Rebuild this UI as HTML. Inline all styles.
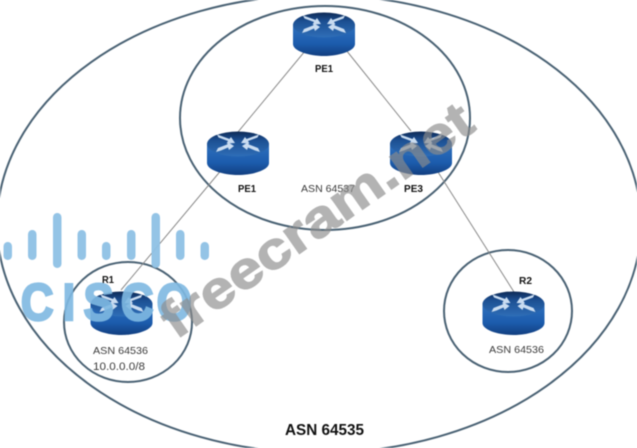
<!DOCTYPE html>
<html><head><meta charset="utf-8"><style>
html,body{margin:0;padding:0;background:#fff;width:637px;height:448px;overflow:hidden}
svg{display:block;filter:blur(.4px)}
text{font-family:"Liberation Sans",sans-serif}
.l{font-size:10.5px;fill:#3a3a3a}
.b{font-size:10.5px;font-weight:bold;fill:#111}
</style></head><body>
<svg width="637" height="448" viewBox="0 0 637 448" xmlns="http://www.w3.org/2000/svg">
<defs>
<linearGradient id="side" x1="0" x2="0" y1="0" y2="1"><stop offset="0" stop-color="#2f70bd"/><stop offset=".6" stop-color="#1c5cad"/><stop offset="1" stop-color="#123f80"/></linearGradient>
<linearGradient id="top" x1="0" x2="0" y1="0" y2="1"><stop offset="0" stop-color="#0e2a55"/><stop offset=".35" stop-color="#1c4f92"/><stop offset="1" stop-color="#2f6fb8"/></linearGradient>
<g id="router">
<path d="M-31 -8V11C-31 18 -15 23 0 23S31 18 31 11V-8Z" fill="url(#side)"/>
<ellipse cx="0" cy="-8" rx="31" ry="12.5" fill="url(#top)"/>
<g fill="#c9dcf1">
<path d="M-21 -17.5L-19.5 -14.5L-10 -11L-11.5 -8.5L-3 -9L-7 -15L-8.5 -13L-18 -16.5Z"/>
<path d="M21 -17.5L19.5 -14.5L10 -11L11.5 -8.5L3 -9L7 -15L8.5 -13L18 -16.5Z"/>
<path d="M-22 0L-20 -4L-11 -7.5L-9.5 -9.5L-4 -6L-9 -2L-10 -4.5L-17 -1.5Z"/>
<path d="M22 0L20 -4L11 -7.5L9.5 -9.5L4 -6L9 -2L10 -4.5L17 -1.5Z"/>
</g>
</g>
</defs>
<g fill="none" stroke="#4a6274" stroke-width="2">
<ellipse cx="319" cy="224" rx="322" ry="229"/>
<ellipse cx="325" cy="118" rx="145" ry="112"/>
<ellipse cx="128" cy="322" rx="64" ry="60"/>
<ellipse cx="508" cy="311" rx="64" ry="61"/>
</g>
<g stroke="#8a8a8a" stroke-width="1" fill="none">
<path d="M310 45L238 132"/>
<path d="M342 45L411 131"/>
<path d="M223 168L121 290"/>
<path d="M438 172L514 292"/>
</g>
<use href="#router" x="324" y="33"/>
<use href="#router" x="238" y="152"/>
<use href="#router" x="421" y="152"/>
<use href="#router" x="121.500" y="312"/>
<use href="#router" x="513.500" y="312"/>
<text class="b" x="315" y="72" textLength="18" lengthAdjust="spacingAndGlyphs">PE1</text>
<text class="b" x="238" y="192" textLength="18" lengthAdjust="spacingAndGlyphs">PE1</text>
<text class="l" x="301" y="192" textLength="54" lengthAdjust="spacingAndGlyphs">ASN 64537</text>
<text class="b" x="404" y="192" textLength="19" lengthAdjust="spacingAndGlyphs">PE3</text>
<text class="b" x="102" y="283" textLength="12" lengthAdjust="spacingAndGlyphs">R1</text>
<text class="l" x="93" y="354" textLength="55" lengthAdjust="spacingAndGlyphs">ASN 64536</text>
<text class="l" x="93" y="370" style="font-size:11px" textLength="52" lengthAdjust="spacingAndGlyphs">10.0.0.0/8</text>
<text class="b" x="519" y="284" textLength="13" lengthAdjust="spacingAndGlyphs">R2</text>
<text class="l" x="489" y="353" textLength="55" lengthAdjust="spacingAndGlyphs">ASN 64536</text>
<text x="285" y="435" font-size="16" font-weight="bold" fill="#111" textLength="79" lengthAdjust="spacingAndGlyphs">ASN 64535</text>
<g fill="#8fc1e5" opacity=".95">
<rect x="3.500" y="242" width="8.500" height="18" rx="4.200"/>
<rect x="28" y="230" width="8.500" height="30" rx="4.200"/>
<rect x="53" y="213" width="8.500" height="55" rx="4.200"/>
<rect x="77.500" y="230" width="8.500" height="30" rx="4.200"/>
<rect x="102" y="242" width="8.500" height="18" rx="4.200"/>
<rect x="127" y="230" width="8.500" height="30" rx="4.200"/>
<rect x="151.500" y="213" width="8.500" height="55" rx="4.200"/>
<rect x="176" y="230" width="8.500" height="30" rx="4.200"/>
<rect x="200.500" y="242" width="8.500" height="18" rx="4.200"/>
</g>
<text transform="translate(0,320) scale(.87,1)" font-size="52" font-weight="bold" fill="#7fb9e2" stroke="#7fb9e2" stroke-width="2.500" opacity=".9" x="24 72 96 139 180">CISCO</text>
<text transform="translate(176,340) rotate(-35)" font-size="52" font-weight="bold" fill="#8c8c8c" stroke="#8c8c8c" stroke-width="1.200" opacity=".66" textLength="368" lengthAdjust="spacingAndGlyphs">freecram.net</text>
</svg>
</body></html>
